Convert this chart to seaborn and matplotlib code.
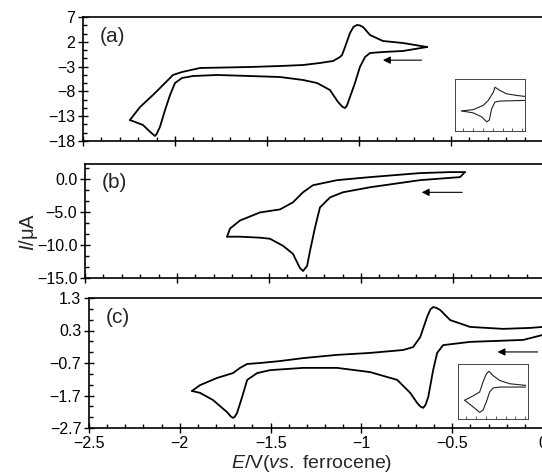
import numpy as np
import pandas as pd
import matplotlib
matplotlib.use("Agg")
import matplotlib.pyplot as plt
from matplotlib.ticker import MultipleLocator, AutoMinorLocator
import seaborn as sns

# ---------------- data ----------------
# panel (a): forward (cathodic, leftward) and return scans
a_fwd_E = [-0.630, -0.761, -0.870, -0.940, -0.967, -0.995, -1.022, -1.049, -1.066, -1.076,
           -1.090, -1.114, -1.158, -1.228, -1.304, -1.429, -1.592, -1.772, -1.902, -1.962,
           -2.000, -2.027, -2.054, -2.082, -2.100, -2.109, -2.140, -2.174, -2.245]
a_fwd_I = [0.95, 0.15, -0.06, -0.26, -1.06, -3.08, -6.31, -9.13, -10.90, -11.35,
           -11.10, -10.14, -7.72, -6.31, -5.70, -5.10, -4.90, -4.69, -4.90, -5.30,
           -6.31, -8.73, -11.75, -15.18, -16.60, -16.99, -16.00, -14.77, -13.77]
a_ret_E = [-2.245, -2.190, -2.120, -2.065, -2.011, -1.962, -1.864, -1.592, -1.429, -1.304,
           -1.212, -1.141, -1.103, -1.092, -1.076, -1.049, -1.030, -1.011, -0.995, -0.978,
           -0.940, -0.870, -0.761, -0.630]
a_ret_I = [-13.77, -11.15, -8.73, -6.71, -4.69, -4.09, -3.28, -3.08, -2.88, -2.68,
           -2.27, -1.87, -1.06, -0.66, 0.95, 3.77, 5.00, 5.39, 5.30, 4.98,
           3.37, 2.16, 1.76, 0.95]

# panel (b)
b_fwd_E = [-0.435, -0.462, -0.679, -0.951, -1.098, -1.168, -1.223, -1.250, -1.277, -1.293,
           -1.315, -1.332, -1.370, -1.424, -1.495, -1.549, -1.658, -1.728]
b_fwd_I = [1.07, 0.31, -0.15, -1.23, -1.99, -2.76, -4.29, -7.35, -10.87, -13.17,
           -13.94, -13.48, -11.33, -10.11, -9.04, -8.88, -8.73, -8.73]
b_ret_E = [-1.728, -1.712, -1.658, -1.549, -1.440, -1.370, -1.315, -1.261, -1.130, -0.951,
           -0.679, -0.516, -0.435]
b_ret_I = [-8.73, -7.50, -6.28, -5.05, -4.59, -3.52, -1.99, -0.92, -0.15, 0.31,
           0.92, 1.07, 1.07]

# panel (c)
c_fwd_E = [0.030, -0.004, -0.109, -0.401, -0.550, -0.583, -0.605, -0.632, -0.648, -0.660,
           -0.675, -0.693, -0.731, -0.803, -0.952, -1.134, -1.321, -1.503, -1.574, -1.629,
           -1.657, -1.685, -1.698, -1.707, -1.720, -1.740, -1.817, -1.888, -1.933]
c_fwd_I = [0.20, 0.16, 0.01, -0.05, -0.15, -0.39, -0.92, -1.75, -2.00, -2.08,
           -2.04, -1.93, -1.62, -1.22, -0.98, -0.85, -0.85, -0.92, -1.01, -1.22,
           -1.75, -2.24, -2.36, -2.39, -2.34, -2.21, -1.84, -1.62, -1.56]
c_ret_E = [-1.933, -1.888, -1.795, -1.707, -1.668, -1.629, -1.558, -1.448, -1.321, -1.134,
           -0.952, -0.770, -0.715, -0.676, -0.638, -0.620, -0.605, -0.588, -0.566, -0.511,
           -0.401, -0.219, -0.070, -0.004, 0.030]
c_ret_I = [-1.56, -1.38, -1.16, -1.01, -0.85, -0.73, -0.70, -0.64, -0.55, -0.45,
           -0.39, -0.30, -0.21, 0.10, 0.72, 0.95, 1.02, 1.00, 0.93, 0.62,
           0.41, 0.35, 0.38, 0.41, 0.43]

# insets (relative units inside the inset box)
ia_up_u = [0.095, 0.262, 0.405, 0.476, 0.548, 0.571, 0.643, 0.738, 0.881, 1.0]
ia_up_v = [0.386, 0.411, 0.494, 0.589, 0.747, 0.842, 0.778, 0.715, 0.684, 0.665]
ia_lo_u = [0.095, 0.262, 0.381, 0.452, 0.490, 0.524, 0.571, 0.643, 1.0]
ia_lo_v = [0.386, 0.348, 0.272, 0.177, 0.209, 0.430, 0.557, 0.576, 0.589]
ic_up_u = [0.095, 0.214, 0.310, 0.357, 0.405, 0.443, 0.500, 0.595, 0.738, 0.967]
ic_up_v = [0.341, 0.419, 0.491, 0.671, 0.820, 0.868, 0.790, 0.701, 0.641, 0.611]
ic_lo_u = [0.095, 0.214, 0.310, 0.357, 0.405, 0.452, 0.500, 0.595, 0.967]
ic_lo_v = [0.341, 0.222, 0.120, 0.162, 0.311, 0.491, 0.563, 0.581, 0.581]

# ticks
x_ticks = [-2.5, -2.0, -1.5, -1.0, -0.5, 0.0]
x_labels = ["\u22122.5", "\u22122", "\u22121.5", "\u22121", "\u22120.5", "0"]
a_yticks = [7, 2, -3, -8, -13, -18]
a_ylabels = ["7", "2", "\u22123", "\u22128", "\u221213", "\u221218"]
b_yticks = [0.0, -5.0, -10.0, -15.0]
b_ylabels = ["0.0", "\u22125.0", "\u221210.0", "\u221215.0"]
c_yticks = [1.3, 0.3, -0.7, -1.7, -2.7]
c_ylabels = ["1.3", "0.3", "\u22120.7", "\u22121.7", "\u22122.7"]
panel_names = ["(a)", "(b)", "(c)"]

# ---------------- style ----------------
sns.set_theme(style="ticks")
plt.rcParams["font.family"] = ["Liberation Sans", "DejaVu Sans"]
plt.rcParams["mathtext.fontset"] = "custom"
plt.rcParams["mathtext.rm"] = "Liberation Sans"
plt.rcParams["mathtext.it"] = "Liberation Sans:italic"
plt.rcParams["axes.unicode_minus"] = True
plt.rcParams["lines.solid_joinstyle"] = "round"

W, H = 542, 474
fig = plt.figure(figsize=(W / 100, H / 100), dpi=100)

def frac(left_px, top_px, bottom_px, width_px):
    return [left_px / W, 1 - bottom_px / H, width_px / W, (bottom_px - top_px) / H]

ax_a = fig.add_axes(frac(83, 17, 141, 460))
ax_b = fig.add_axes(frac(85, 164, 278, 460))
ax_c = fig.add_axes(frac(89, 298, 428, 454))

def branch_df(E, I, name):
    return pd.DataFrame({"E": E, "I": I, "branch": name})

panels = [
    (ax_a, a_fwd_E, a_fwd_I, a_ret_E, a_ret_I, (-18, 7), a_yticks, a_ylabels),
    (ax_b, b_fwd_E, b_fwd_I, b_ret_E, b_ret_I, (-15, 2.3), b_yticks, b_ylabels),
    (ax_c, c_fwd_E, c_fwd_I, c_ret_E, c_ret_I, (-2.7, 1.3), c_yticks, c_ylabels),
]

for i, (ax, fE, fI, rE, rI, ylim, yt, yl) in enumerate(panels):
    df = pd.concat([branch_df(fE, fI, "fwd"), branch_df(rE, rI, "ret")], ignore_index=True)
    sns.lineplot(data=df, x="E", y="I", units="branch", estimator=None, sort=False,
                 color="black", lw=1.3, ax=ax, legend=False)
    ax.set_xlim(-2.5, 0.0)
    ax.set_ylim(*ylim)
    ax.set_xlabel("")
    ax.set_ylabel("")
    ax.spines["right"].set_visible(False)
    for s in ["top", "left", "bottom"]:
        ax.spines[s].set_linewidth(1.2)
        ax.spines[s].set_color("black")
    ax.set_xticks(x_ticks)
    if i == 2:
        ax.set_xticklabels(x_labels)
    else:
        ax.set_xticklabels([])
    ax.xaxis.set_minor_locator(MultipleLocator(0.1))
    ax.set_yticks(yt)
    ax.set_yticklabels(yl)
    ax.yaxis.set_minor_locator(AutoMinorLocator(3))
    ax.tick_params(which="major", direction="inout", length=7, width=1.0,
                   labelsize=11.5, pad=2, color="black", labelcolor="black")
    ax.tick_params(which="minor", direction="in", length=3, width=1.0, color="black")
    ax.tick_params(axis="x", which="major", pad=2.5)
    ax.text(0.036, 0.92, panel_names[i], transform=ax.transAxes, fontsize=15,
            ha="left", va="top")

# scan-direction arrows
arrow_kw = dict(arrowstyle="-|>", lw=0.8, color="black", mutation_scale=11,
                shrinkA=0, shrinkB=0)
ax_a.annotate("", xy=(-0.87, -1.7), xytext=(-0.66, -1.7), arrowprops=arrow_kw)
ax_b.annotate("", xy=(-0.67, -2.0), xytext=(-0.45, -2.0), arrowprops=arrow_kw)
ax_c.annotate("", xy=(-0.25, -0.36), xytext=(-0.03, -0.36), arrowprops=arrow_kw)

# insets
def add_inset(box_px, up_u, up_v, lo_u, lo_v):
    l, t, r, b = box_px
    ins = fig.add_axes([l / W, 1 - b / H, (r - l) / W, (b - t) / H])
    dfi = pd.concat([pd.DataFrame({"u": up_u, "v": up_v, "k": "up"}),
                     pd.DataFrame({"u": lo_u, "v": lo_v, "k": "lo"})], ignore_index=True)
    sns.lineplot(data=dfi, x="u", y="v", units="k", estimator=None, sort=False,
                 color="#222222", lw=0.8, ax=ins, legend=False)
    ins.set_xlim(0, 1)
    ins.set_ylim(0, 1)
    ins.set_xlabel("")
    ins.set_ylabel("")
    ins.set_xticks([0.12, 0.26, 0.40, 0.54, 0.68, 0.82, 0.96])
    ins.set_xticklabels([])
    ins.set_yticks([])
    ins.tick_params(axis="x", direction="in", length=2, width=0.6, color="#444444")
    for s in ins.spines.values():
        s.set_linewidth(0.7)
        s.set_color("#444444")
    return ins

add_inset((455, 79, 525, 131), ia_up_u, ia_up_v, ia_lo_u, ia_lo_v)
add_inset((458, 364, 528, 419), ic_up_u, ic_up_v, ic_lo_u, ic_lo_v)

# axis titles
fig.text(29 / W, 1 - 232 / H, "$I$/\u03bcA", rotation=90, ha="center", va="center",
         fontsize=14.5)
fig.text(312 / W, 1 - 464 / H, "$E$/V($\\mathit{vs.}$ ferrocene)", ha="center",
         va="center", fontsize=14)

fig.savefig("out.png", dpi=100)
